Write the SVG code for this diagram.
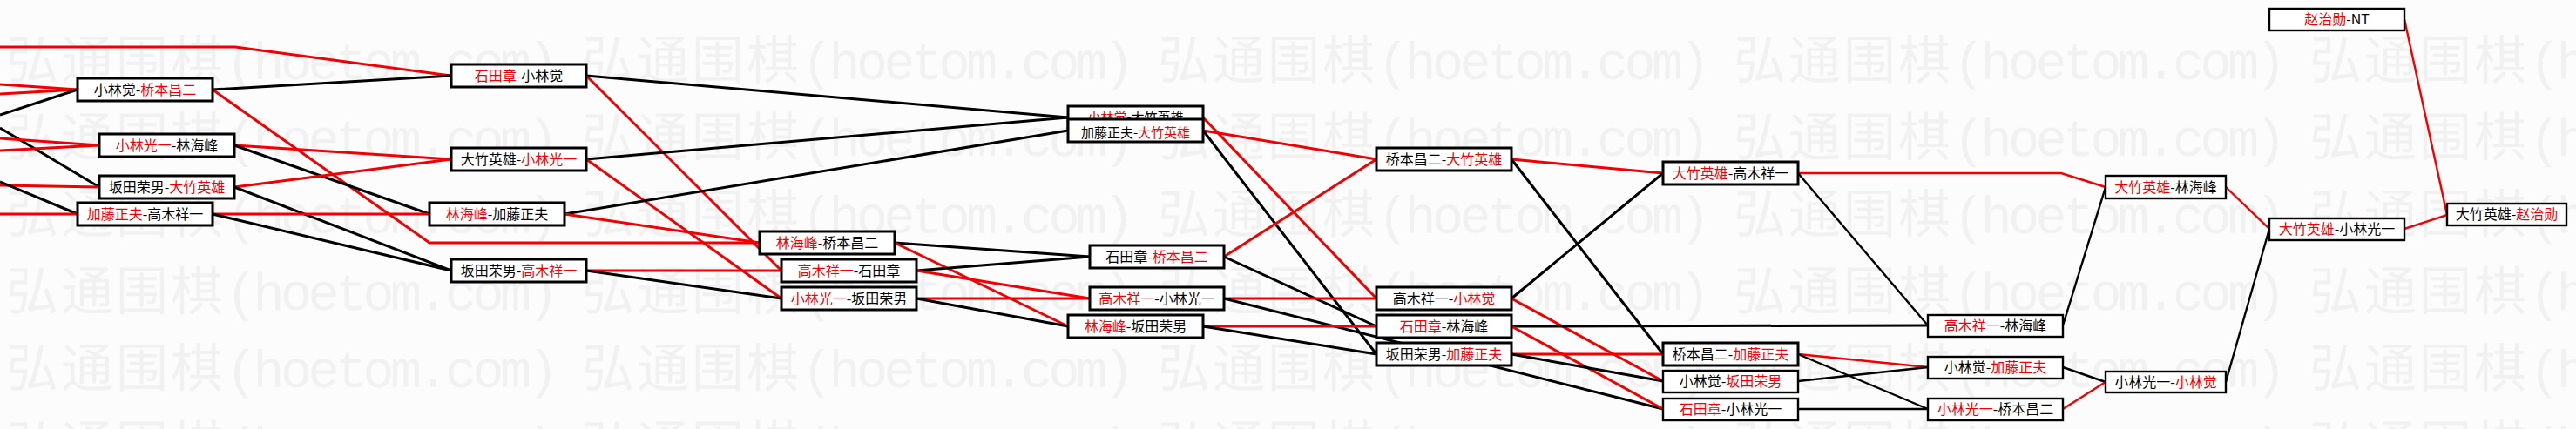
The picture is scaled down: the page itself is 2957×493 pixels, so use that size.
<svg xmlns="http://www.w3.org/2000/svg" width="2957" height="493" viewBox="0 0 2957 493">
<style>
.bg{fill:#fcfcfc}
.wm{fill:#f1f1f1}
.wmc{font-family:"Noto Sans CJK SC",sans-serif;font-size:60px;letter-spacing:3px}
.wml{font-family:"Liberation Mono",monospace;font-size:60px;letter-spacing:-4.5px}
.c line,.c polyline{fill:none;stroke-linejoin:miter}
.r{stroke:#f00000}
.k{stroke:#000}
.w3{stroke-width:3}
.w2{stroke-width:2.4}
.box{fill:#fff;stroke:#000;stroke-width:3}
.box2{fill:#fff;stroke:#000;stroke-width:2.4}
.t{font-family:"Noto Sans CJK SC","Noto Sans CJK JP",sans-serif;font-size:16px;text-anchor:middle;fill:#000}
.t .red{fill:#f00000}
.sm{font-size:15px}
</style>
<defs>
<pattern id="wmp" patternUnits="userSpaceOnUse" x="7" y="31" width="661" height="88.5">
<text class="wm" y="60"><tspan class="wmc" x="0">弘通围棋</tspan><tspan class="wml">(hoetom.com)</tspan></text>
</pattern>
</defs>
<rect class="bg" x="0" y="0" width="2957" height="493"/>
<rect x="0" y="31" width="2957" height="462" fill="url(#wmp)"/>

<g id="connectors" class="c">
<polyline class="r w3" points="0,54 270,54 518,87"/>
<line class="r w3" x1="0" y1="97" x2="89" y2="103"/>
<line class="r w3" x1="0" y1="108" x2="89" y2="103"/>
<line class="k w3" x1="0" y1="132" x2="89" y2="103"/>
<line class="k w3" x1="0" y1="147" x2="114" y2="215"/>
<line class="r w3" x1="0" y1="159" x2="114" y2="167"/>
<line class="r w3" x1="0" y1="173" x2="114" y2="167"/>
<line class="r w3" x1="0" y1="213" x2="114" y2="215"/>
<line class="k w3" x1="0" y1="209" x2="89" y2="246"/>
<line class="r w3" x1="0" y1="246" x2="89" y2="246"/>

<line class="k w3" x1="244" y1="103" x2="518" y2="87"/>
<polyline class="r w3" points="244,103 493,279 872,279"/>
<line class="r w3" x1="269" y1="167" x2="518" y2="183"/>
<line class="k w3" x1="269" y1="167" x2="493" y2="246"/>
<line class="r w3" x1="269" y1="215" x2="518" y2="183"/>
<line class="k w3" x1="269" y1="215" x2="518" y2="311"/>
<line class="r w3" x1="244" y1="246" x2="493" y2="246"/>
<line class="k w3" x1="244" y1="246" x2="518" y2="311"/>

<line class="k w3" x1="673" y1="87" x2="1226" y2="135"/>
<line class="r w3" x1="673" y1="87" x2="897" y2="311"/>
<line class="k w3" x1="673" y1="183" x2="1226" y2="135"/>
<line class="r w3" x1="673" y1="183" x2="897" y2="343"/>
<line class="k w3" x1="648" y1="246" x2="1226" y2="150"/>
<line class="r w3" x1="648" y1="246" x2="872" y2="279"/>
<line class="r w3" x1="673" y1="311" x2="897" y2="311"/>
<line class="k w3" x1="673" y1="311" x2="897" y2="343"/>

<line class="k w3" x1="1027" y1="279" x2="1251" y2="295"/>
<line class="r w3" x1="1027" y1="279" x2="1226" y2="375"/>
<line class="k w3" x1="1052" y1="311" x2="1251" y2="295"/>
<line class="r w3" x1="1052" y1="311" x2="1251" y2="343"/>
<line class="r w3" x1="1052" y1="343" x2="1251" y2="343"/>
<line class="k w3" x1="1052" y1="343" x2="1226" y2="375"/>

<line class="r w3" x1="1381" y1="135" x2="1580" y2="343"/>
<line class="r w3" x1="1381" y1="150" x2="1580" y2="183"/>
<line class="k w3" x1="1381" y1="150" x2="1580" y2="407"/>
<line class="r w3" x1="1405" y1="295" x2="1580" y2="183"/>
<line class="k w3" x1="1405" y1="295" x2="1580" y2="375"/>
<line class="r w3" x1="1405" y1="343" x2="1580" y2="343"/>
<line class="k w3" x1="1405" y1="343" x2="1909" y2="470"/>
<line class="r w3" x1="1381" y1="375" x2="1580" y2="375"/>
<line class="k w3" x1="1381" y1="375" x2="1580" y2="407"/>

<line class="r w3" x1="1735" y1="183" x2="1909" y2="199"/>
<line class="k w3" x1="1735" y1="183" x2="1909" y2="407"/>
<line class="k w3" x1="1735" y1="343" x2="1909" y2="199"/>
<line class="r w3" x1="1735" y1="343" x2="1909" y2="438"/>
<line class="k w3" x1="1735" y1="375" x2="2213" y2="374"/>
<line class="r w3" x1="1735" y1="375" x2="1909" y2="470"/>
<line class="r w3" x1="1735" y1="407" x2="1909" y2="407"/>
<line class="k w3" x1="1735" y1="407" x2="1909" y2="438"/>

<polyline class="r w2" points="2064,199 2366,199 2417,215"/>
<line class="k w2" x1="2064" y1="199" x2="2213" y2="374"/>
<line class="r w2" x1="2064" y1="407" x2="2213" y2="422"/>
<line class="k w2" x1="2064" y1="407" x2="2213" y2="470"/>
<line class="k w2" x1="2064" y1="438" x2="2213" y2="422"/>
<line class="k w2" x1="2064" y1="470" x2="2213" y2="470"/>

<line class="k w2" x1="2368" y1="374" x2="2417" y2="215"/>
<line class="k w2" x1="2368" y1="422" x2="2417" y2="439"/>
<line class="r w2" x1="2368" y1="470" x2="2417" y2="439"/>

<line class="r w2" x1="2555" y1="215" x2="2605" y2="263"/>
<line class="k w2" x1="2555" y1="439" x2="2605" y2="263"/>

<line class="r w2" x1="2760" y1="22" x2="2809" y2="247"/>
<line class="r w2" x1="2760" y1="263" x2="2809" y2="247"/>
</g>

<g id="n-A1"><rect class="box" x="89" y="90" width="155" height="26"/><text class="t" x="166.5" y="109">小林觉-<tspan class="red">桥本昌二</tspan></text></g>
<g id="n-A2"><rect class="box" x="114" y="154" width="155" height="26"/><text class="t" x="191.5" y="173"><tspan class="red">小林光一</tspan>-林海峰</text></g>
<g id="n-A3"><rect class="box" x="114" y="202" width="155" height="26"/><text class="t" x="191.5" y="221">坂田荣男-<tspan class="red">大竹英雄</tspan></text></g>
<g id="n-A4"><rect class="box" x="89" y="233" width="155" height="26"/><text class="t" x="166.5" y="252"><tspan class="red">加藤正夫</tspan>-高木祥一</text></g>

<g id="n-B1"><rect class="box" x="518" y="74" width="155" height="26"/><text class="t" x="595.5" y="93"><tspan class="red">石田章</tspan>-小林觉</text></g>
<g id="n-B2"><rect class="box" x="518" y="170" width="155" height="26"/><text class="t" x="595.5" y="189">大竹英雄-<tspan class="red">小林光一</tspan></text></g>
<g id="n-B3"><rect class="box" x="493" y="233" width="155" height="26"/><text class="t" x="570.5" y="252"><tspan class="red">林海峰</tspan>-加藤正夫</text></g>
<g id="n-B4"><rect class="box" x="518" y="298" width="155" height="26"/><text class="t" x="595.5" y="317">坂田荣男-<tspan class="red">高木祥一</tspan></text></g>

<g id="n-C1"><rect class="box" x="872" y="266" width="155" height="26"/><text class="t" x="949.5" y="285"><tspan class="red">林海峰</tspan>-桥本昌二</text></g>
<g id="n-C2"><rect class="box" x="897" y="298" width="155" height="26"/><text class="t" x="974.5" y="317"><tspan class="red">高木祥一</tspan>-石田章</text></g>
<g id="n-C3"><rect class="box" x="897" y="330" width="155" height="26"/><text class="t" x="974.5" y="349"><tspan class="red">小林光一</tspan>-坂田荣男</text></g>

<g id="n-D1"><rect class="box" x="1226" y="122" width="155" height="25"/><text class="t sm" x="1303.5" y="140"><tspan class="red">小林觉</tspan>-大竹英雄</text></g>
<g id="n-D2"><rect x="1227.5" y="149" width="152" height="12.5" fill="#fff"/><rect class="box" x="1226" y="137" width="155" height="26" fill="none"/><text class="t sm" x="1303.5" y="158">加藤正夫-<tspan class="red">大竹英雄</tspan></text></g>
<g id="n-D3"><rect class="box" x="1251" y="282" width="154" height="26"/><text class="t" x="1328" y="301">石田章-<tspan class="red">桥本昌二</tspan></text></g>
<g id="n-D4"><rect class="box" x="1251" y="330" width="154" height="26"/><text class="t" x="1328" y="349"><tspan class="red">高木祥一</tspan>-小林光一</text></g>
<g id="n-D5"><rect class="box" x="1226" y="362" width="155" height="26"/><text class="t" x="1303.5" y="381"><tspan class="red">林海峰</tspan>-坂田荣男</text></g>

<g id="n-E1"><rect class="box" x="1580" y="170" width="155" height="26"/><text class="t" x="1657.5" y="189">桥本昌二-<tspan class="red">大竹英雄</tspan></text></g>
<g id="n-E2"><rect class="box" x="1580" y="330" width="155" height="26"/><text class="t" x="1657.5" y="349">高木祥一-<tspan class="red">小林觉</tspan></text></g>
<g id="n-E3"><rect class="box" x="1580" y="362" width="155" height="26"/><text class="t" x="1657.5" y="381"><tspan class="red">石田章</tspan>-林海峰</text></g>
<g id="n-E4"><rect class="box" x="1580" y="394" width="155" height="26"/><text class="t" x="1657.5" y="413">坂田荣男-<tspan class="red">加藤正夫</tspan></text></g>

<g id="n-F1"><rect class="box" x="1909" y="186" width="155" height="26"/><text class="t" x="1986.5" y="205"><tspan class="red">大竹英雄</tspan>-高木祥一</text></g>
<g id="n-F2"><rect class="box" x="1909" y="394" width="155" height="26"/><text class="t" x="1986.5" y="413">桥本昌二-<tspan class="red">加藤正夫</tspan></text></g>
<g id="n-F3"><rect class="box2" x="1909" y="426" width="155" height="25"/><text class="t" x="1986.5" y="444">小林觉-<tspan class="red">坂田荣男</tspan></text></g>
<g id="n-F4"><rect class="box2" x="1909" y="458" width="155" height="25"/><text class="t" x="1986.5" y="476"><tspan class="red">石田章</tspan>-小林光一</text></g>

<g id="n-G1"><rect class="box2" x="2213" y="362" width="155" height="25"/><text class="t" x="2290.5" y="380"><tspan class="red">高木祥一</tspan>-林海峰</text></g>
<g id="n-G2"><rect class="box2" x="2213" y="410" width="155" height="25"/><text class="t" x="2290.5" y="428">小林觉-<tspan class="red">加藤正夫</tspan></text></g>
<g id="n-G3"><rect class="box2" x="2213" y="458" width="155" height="25"/><text class="t" x="2290.5" y="476"><tspan class="red">小林光一</tspan>-桥本昌二</text></g>

<g id="n-H1"><rect class="box2" x="2417" y="202" width="138" height="26"/><text class="t" x="2486" y="221"><tspan class="red">大竹英雄</tspan>-林海峰</text></g>
<g id="n-H2"><rect class="box2" x="2417" y="427" width="138" height="24"/><text class="t" x="2486" y="445">小林光一-<tspan class="red">小林觉</tspan></text></g>

<g id="n-I1"><rect class="box2" x="2605" y="10" width="155" height="25"/><text class="t" x="2682.5" y="28"><tspan class="red">赵治勋</tspan>-NT</text></g>
<g id="n-I2"><rect class="box2" x="2605" y="251" width="155" height="25"/><text class="t" x="2682.5" y="269"><tspan class="red">大竹英雄</tspan>-小林光一</text></g>

<g id="n-J1"><rect class="box2" x="2809" y="234" width="137" height="25"/><text class="t" x="2877.5" y="252">大竹英雄-<tspan class="red">赵治勋</tspan></text></g>
</svg>
